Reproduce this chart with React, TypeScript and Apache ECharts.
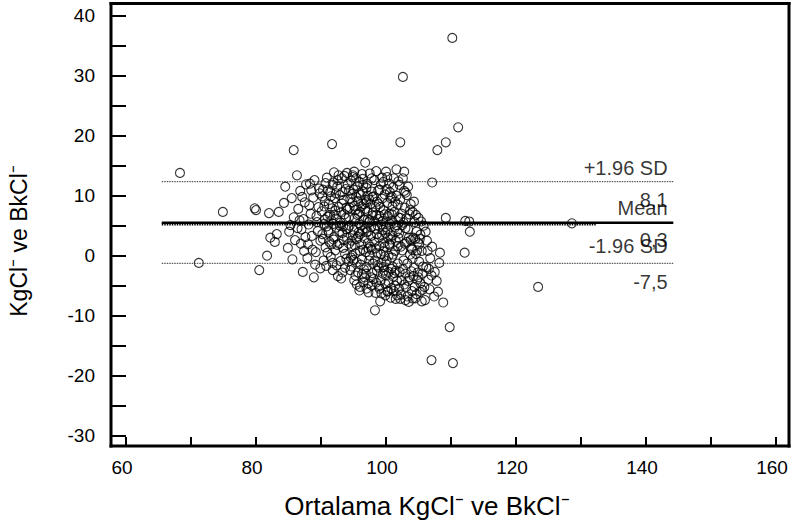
import React, { useEffect, useRef } from "react";
import * as echarts from "echarts";

const FONT = "'Liberation Sans', Arial, Helvetica, sans-serif";

const xAxisMin = 57.69;
const xAxisMax = 162;
const yAxisMin = -31.72;
const yAxisMax = 42.03;
const xTickValues = [60, 70, 80, 90, 100, 110, 120, 130, 140, 150, 160];
const xLabelValues = [60, 80, 100, 120, 140, 160];
const yTickValues = [-30, -25, -20, -15, -10, -5, 0, 5, 10, 15, 20, 25, 30, 35, 40];
const yLabelValues = [-30, -20, -10, 0, 10, 20, 30, 40];

const xTitle = "Ortalama KgCl⁻ ve BkCl⁻";
const yTitle = "KgCl⁻ ve BkCl⁻";

// reference lines: [xStart, xEnd, y]
const meanLine = [65.5, 144.2, 5.5];
const meanDotted = [65.5, 132.3, 5.25];
const upperLine = [65.5, 144.2, 12.33];
const lowerLine = [65.5, 144.2, -1.27];

const lineLabelX = 143.4;
const lineLabelTexts = ["+1.96 SD", "8,1", "Mean", "0,3", "-1.96 SD", "-7,5"];
const lineLabelY = [14.57, 9.28, 7.9, 2.62, 1.62, -4.33];

const outlierPoints = [
  [110.2, 36.3], [102.6, 29.8], [111.1, 21.4], [91.7, 18.6], [109.2, 18.9], [107.9, 17.6],
  [85.8, 17.6], [68.3, 13.8], [107.1, 12.2], [74.9, 7.3], [79.8, 7.9], [80.0, 7.6],
  [109.2, 6.3], [112.2, 5.8], [112.8, 5.7], [112.9, 4.0], [112.1, 0.5], [128.6, 5.4],
  [71.2, -1.2], [123.4, -5.2], [80.5, -2.4], [108.8, -7.8], [98.3, -9.1], [109.8, -11.9],
  [107.0, -17.4], [110.3, -17.9],
];

const band82 = [
  [82.2, 3.0], [82.9, 2.3], [83.2, 3.6], [83.5, 7.3], [82.0, 7.1], [84.3, 8.8], [84.5, 11.5],
  [84.9, 1.3], [81.7, 0.0], [85.3, 5.1], [85.8, 6.4], [85.5, 9.6], [86.3, 13.4], [85.1, 4.0],
  [86.0, 2.6], [85.6, -0.6],
];

const band86 = [
  [86.5, 7.8], [86.8, 10.8], [87.2, -2.7], [87.0, 4.4], [87.3, 6.1], [87.5, 8.9], [87.7, 11.9],
  [88.0, 1.9], [88.1, 5.2], [88.4, 7.0], [88.6, 3.3], [88.9, -3.6], [88.8, 9.7], [89.0, 12.6],
  [89.2, 0.6], [89.3, 6.6], [89.5, 4.1], [89.6, 8.1], [89.8, 10.4], [89.9, 2.5], [86.9, 2.0],
  [87.9, -0.4], [88.3, 12.0], [89.1, -1.5], [86.7, 5.9], [87.6, 3.1], [88.7, 1.0], [89.7, 11.2],
  [87.1, 9.8], [88.2, 8.4], [89.4, 5.6], [86.4, 4.6], [87.4, 0.8], [89.9, -2.1], [88.5, 10.9],
];

const band90 = [
  [90.1, 7.4], [90.2, 3.6], [90.3, 11.0], [90.4, -0.8], [90.5, 5.3], [90.6, 9.1], [90.7, 1.4],
  [90.8, -1.7], [90.9, 13.0], [91.0, 6.5], [91.1, 4.2], [91.2, 8.6], [91.3, 2.3], [91.4, 10.6],
  [91.5, -0.2], [91.6, 5.9], [91.7, 7.9], [91.8, -1.2], [91.8, -2.4], [91.9, 12.2], [92.0, 3.1],
  [92.0, 13.9], [92.1, 9.6], [92.2, 0.9], [92.3, 6.2], [92.4, 4.7], [92.5, 11.5], [92.6, -3.4],
  [92.7, 8.1], [92.8, 2.0], [92.9, 10.1], [93.0, 5.5], [93.0, -0.9], [93.1, 7.2], [93.2, 12.9],
  [93.3, 3.8], [93.4, 1.3], [93.5, 9.3], [93.6, 6.9], [93.7, -2.0], [93.8, 11.1], [93.9, 4.4],
  [90.3, 2.8], [90.7, 12.1], [91.0, 0.5], [91.5, 9.9], [92.0, 6.8], [92.4, -1.6], [92.8, 4.0],
  [93.3, 10.6], [93.7, 0.3], [93.9, 8.0], [90.5, 8.2], [91.2, 3.9], [91.8, 11.8], [92.5, 1.8],
  [93.1, -3.8], [93.6, 13.3], [90.9, 4.9], [91.4, 6.8], [92.2, 7.5], [92.9, 5.0], [93.5, 2.6],
  [90.2, 9.9], [91.9, 5.3], [92.6, 12.6], [93.2, 8.7], [93.8, 6.3], [91.6, 1.9], [92.3, 10.4],
];

const band94 = [
  [94.0, 3.0], [94.1, 7.7], [94.2, -1.0], [94.3, 10.8], [94.4, 5.0], [94.5, -2.4], [94.6, 12.5],
  [94.7, 1.6], [94.8, 8.9], [94.9, 13.4], [94.9, 13.1], [95.0, 4.3], [95.1, 14.0], [95.1, -4.1],
  [95.2, 6.3], [95.3, 0.4], [95.4, 9.8], [95.5, 2.8], [95.6, 11.6], [95.7, -2.8], [95.8, 7.0],
  [95.9, 5.4], [96.0, -5.2], [96.0, 3.6], [96.1, 10.1], [96.2, 8.2], [96.3, -0.6], [96.4, 12.8],
  [96.5, 1.0], [96.6, 6.0], [96.7, -3.6], [96.8, 15.5], [96.8, 4.6], [96.9, 9.3], [97.0, -1.9],
  [97.0, 11.3], [97.1, 7.4], [97.2, 2.1], [97.3, -4.6], [97.4, 5.6], [97.5, 13.7], [97.5, 0.0],
  [97.6, 8.6], [97.7, 3.3], [97.8, 10.7], [97.9, -2.9], [97.9, 6.7], [94.2, 4.6], [94.5, 9.5],
  [94.8, 0.0], [95.0, 11.0], [95.3, -3.3], [95.6, 6.8], [95.9, 12.3], [96.2, 1.9], [96.5, -4.4],
  [96.8, 7.8], [97.1, 12.0], [97.4, -0.8], [97.7, 4.8], [94.3, 6.4], [94.7, 2.5], [95.1, 8.3],
  [95.5, -1.1], [95.8, 3.9], [96.1, 5.1], [96.4, 10.7], [96.7, 2.9], [97.0, 8.9], [97.3, -6.1],
  [97.6, 1.5], [97.9, 9.8], [94.1, 11.9], [94.6, -0.3], [95.2, 1.7], [95.7, 9.1], [96.3, 13.6],
  [96.9, 0.6], [97.2, 10.0], [97.8, -5.0], [94.4, 8.0], [95.4, 12.9], [96.0, 7.3], [96.6, -2.3],
  [97.5, 5.9], [94.9, 3.4], [95.9, -5.8], [96.5, 11.8], [97.2, 4.0], [97.8, 1.0],
];

const band98 = [
  [98.0, 7.2], [98.1, -3.9], [98.2, 12.6], [98.3, 4.5], [98.4, 1.2], [98.5, 14.1],
  [98.6, 9.0], [98.7, -1.6], [98.8, 6.1], [98.9, 3.0], [99.0, 11.0], [99.0, -5.5], [99.1, 8.1],
  [99.2, 0.3], [99.3, 5.2], [99.4, 13.0], [99.5, -3.0], [99.6, 7.6], [99.7, 2.2], [99.8, 10.2],
  [99.9, -6.6], [100.0, 14.0], [100.0, 4.8], [100.1, -0.9], [100.2, 8.8], [100.3, 6.6],
  [100.4, -4.4], [100.5, 12.0], [100.6, 1.8], [100.7, 9.6], [100.8, -2.2], [100.9, 5.8],
  [101.0, 3.4], [101.1, 11.4], [101.2, -5.9], [101.3, 7.3], [101.4, 0.8], [101.5, -7.2],
  [101.6, 10.0], [101.6, 14.4], [101.7, 4.1], [101.8, -1.3], [101.9, 6.4], [98.1, 9.9],
  [98.4, -6.2], [98.7, 5.0], [99.0, 1.6], [99.3, -1.2], [99.6, 12.3], [99.9, 3.8], [100.2, -6.0],
  [100.5, 7.0], [100.8, 2.7], [101.1, -3.5], [101.4, 9.0], [101.7, -4.2], [98.2, 2.3],
  [98.6, -2.5], [98.9, 8.6], [99.2, -4.1], [99.5, 4.3], [99.8, 6.9], [100.1, 11.1], [100.4, 0.0],
  [100.7, -7.0], [101.0, 8.2], [101.3, -2.9], [101.6, 5.1], [101.9, 12.4], [98.5, 6.8],
  [99.1, -7.6], [99.7, -2.5], [100.3, 3.0], [100.9, -0.3], [101.5, 2.5], [98.8, 10.9],
  [99.4, 3.4], [100.0, -3.3], [100.6, 5.3], [101.2, 12.9], [101.8, 1.6], [98.3, -0.8],
  [99.6, 0.7], [100.9, 9.8], [98.9, -5.1], [100.2, 13.1], [101.4, -5.0], [99.2, 11.9],
  [100.8, -5.4],
];

const band102 = [
  [102.0, 3.7], [102.1, -2.7], [102.2, 18.9], [102.2, 9.4], [102.3, -6.5], [102.4, 7.0],
  [102.5, 0.9], [102.6, 12.9], [102.7, 5.5], [102.8, -4.8], [102.9, 2.0], [103.0, 10.5],
  [103.0, -7.4], [103.1, 6.2], [103.2, 10.1], [103.3, -1.3], [103.4, 4.4], [103.4, 11.5],
  [103.6, -3.6], [103.7, 7.6], [103.8, 8.6], [103.9, 1.3], [104.0, -5.9], [104.1, 7.3],
  [104.2, 3.0], [104.3, -2.0], [104.4, 5.6], [104.5, -7.1], [104.6, 0.3], [104.7, 4.0],
  [104.8, -4.0], [104.9, 2.2], [105.0, 6.3], [105.1, -1.0], [105.2, -6.0], [105.3, 3.5],
  [105.5, 0.8], [105.6, -3.0], [105.8, 5.0], [105.9, -5.2], [102.3, 1.5], [102.7, -0.8],
  [103.1, -5.2], [103.5, 3.0], [103.9, -2.6], [104.3, 9.0], [104.7, -6.4], [105.1, 1.9],
  [105.5, -7.6], [102.5, 5.1], [102.9, 8.0], [103.3, -6.8], [103.7, 0.2], [104.1, -0.5],
  [104.5, 2.8], [104.9, -2.8], [105.3, -4.6], [105.7, -1.8], [102.1, 11.8], [102.8, 14.0],
  [102.2, -7.2], [103.5, -7.7], [104.1, -7.1],
];

const band106 = [
  [106.0, -7.4], [106.3, 2.5], [106.5, -4.0], [106.8, -0.4], [107.1, 1.5], [107.4, -6.8],
  [107.5, -2.7], [108.2, -1.2], [108.3, 0.5], [106.2, -1.9], [106.7, -5.6], [107.8, -4.2],
  [106.4, 0.8], [107.0, -3.3], [108.0, -6.0], [106.1, 4.0], [106.6, -2.2],
];

const denseExtra = [
  [90.6, 6.0], [91.1, 10.9], [91.9, 2.7], [92.7, 13.4], [93.4, 4.9], [93.9, -0.5], [94.3, 2.0],
  [94.8, 10.3], [95.3, 7.6], [95.7, 3.2], [96.1, -1.5], [96.6, 8.6], [97.0, 3.9], [97.4, 9.4],
  [97.8, 12.9], [98.2, 5.7], [98.6, 3.6], [99.0, 6.6], [99.4, 9.5], [99.8, 1.5], [100.2, 4.2],
  [100.6, 10.6], [101.0, -1.8], [101.4, 4.7], [101.8, 8.5], [102.2, 6.3], [102.6, -2.2],
  [103.0, 4.6], [103.4, -4.2], [103.8, 2.6], [104.2, -3.4], [104.6, 6.8], [105.0, -3.6],
  [105.4, 5.7], [94.0, 13.8], [95.0, -0.7], [95.8, 10.4], [96.4, 4.2], [97.2, 6.1], [97.7, -3.6],
  [98.4, 8.1], [98.9, -2.0], [99.5, 5.8], [99.9, -4.7], [100.5, 2.0], [100.9, 6.9], [101.5, -2.5],
  [101.9, 3.0], [102.4, -4.1], [102.8, 10.8], [103.2, 2.3], [103.6, 6.9], [104.0, 1.0],
  [104.4, -5.2], [104.8, 0.9], [105.2, 2.8], [105.6, -5.7], [96.0, 0.8], [96.9, -3.0],
  [97.3, 1.2], [98.0, -1.3], [98.7, 0.4], [99.3, -6.3], [99.8, -0.1], [100.4, -2.7], [101.1, 0.2],
  [101.7, -6.6], [102.0, -5.5], [103.0, -3.0], [100.3, -5.9], [99.6, -1.9], [98.5, -4.5],
  [97.0, -5.5], [96.3, -3.1], [95.5, -4.8], [94.7, -1.8], [93.3, -2.8],
];

const allPoints = [
  ...band82, ...band86, ...band90, ...band94, ...band98, ...band102, ...band106,
  ...denseExtra, ...outlierPoints,
];

function hLine(l: number[]) {
  return [[l[0], l[2]], [l[1], l[2]]];
}

const GRID = { left: 111, top: 3.5, right: 3, bottom: 86 };
const W = 792;
const H = 532;
const FW = 3; // frame thickness

const gx0 = GRID.left;
const gy0 = GRID.top;
const gx1 = W - GRID.right;
const gy1 = H - GRID.bottom;

const frameBars = [
  { x: gx0 - FW / 2, y: gy0 - FW / 2, width: gx1 - gx0 + FW, height: FW },
  { x: gx0 - FW / 2, y: gy1 - FW / 2, width: gx1 - gx0 + FW, height: FW },
  { x: gx0 - FW / 2, y: gy0 - FW / 2, width: FW, height: gy1 - gy0 + FW },
  { x: gx1 - FW / 2, y: gy0 - FW / 2, width: FW, height: gy1 - gy0 + FW },
];

export default function App() {
  const ref = useRef<HTMLDivElement>(null);
  useEffect(() => {
    if (!ref.current) return;
    const chart = echarts.init(ref.current, null, { renderer: "svg" });
    chart.setOption({
      animation: false,
      backgroundColor: "#fff",
      grid: { ...GRID, show: false },
      xAxis: {
        type: "value", min: xAxisMin, max: xAxisMax, position: "bottom",
        axisLine: { show: false, onZero: false }, splitLine: { show: false },
        axisTick: { show: true, inside: true, length: 9, customValues: xTickValues, lineStyle: { color: "#000", width: 2 } },
        axisLabel: { customValues: xLabelValues, fontSize: 19, color: "#000", fontFamily: FONT, margin: 12, padding: [0, 8, 0, 0] },
      },
      yAxis: {
        type: "value", min: yAxisMin, max: yAxisMax, position: "left",
        axisLine: { show: false, onZero: false }, splitLine: { show: false },
        axisTick: { show: true, inside: true, length: 15, customValues: yTickValues, lineStyle: { color: "#000", width: 2 } },
        axisLabel: { customValues: yLabelValues, fontSize: 19, color: "#000", fontFamily: FONT, margin: 16 },
      },
      graphic: [
        ...frameBars.map((b) => ({
          type: "rect", z: 100, silent: true,
          shape: b,
          style: { fill: "#000" },
        })),
        {
          type: "text", x: 427, y: 506,
          style: { text: xTitle, font: `26px ${FONT}`, fill: "#000", textAlign: "center", textVerticalAlign: "middle" },
        },
        {
          type: "text", x: 19, y: 241, rotation: Math.PI / 2,
          style: { text: yTitle, font: `23px ${FONT}`, fill: "#000", textAlign: "center", textVerticalAlign: "middle" },
        },
      ],
      series: [
        {
          type: "scatter", data: allPoints, symbol: "circle", symbolSize: 9,
          itemStyle: { color: "rgba(0,0,0,0)", borderColor: "#000", borderWidth: 1.1 },
          emphasis: { disabled: true },
        },
        {
          type: "line", data: hLine(upperLine), symbol: "none",
          lineStyle: { color: "#333", width: 1, type: [1.5, 1] },
        },
        {
          type: "line", data: hLine(lowerLine), symbol: "none",
          lineStyle: { color: "#333", width: 1, type: [1.5, 1] },
        },
        {
          type: "line", data: hLine(meanDotted), symbol: "none",
          lineStyle: { color: "#000", width: 2.5, type: [1.5, 1] },
        },
        {
          type: "line", data: hLine(meanLine), symbol: "none",
          lineStyle: { color: "#000", width: 2.5 },
        },
        {
          type: "scatter", symbolSize: 1,
          data: lineLabelTexts.map((t, i) => ({ value: [lineLabelX, lineLabelY[i]], name: t })),
          itemStyle: { color: "rgba(0,0,0,0)" },
          label: {
            show: true, position: "left", distance: 0, formatter: (p: any) => p.name,
            fontSize: 20, fontFamily: FONT, color: "#000", verticalAlign: "middle",
          },
          emphasis: { disabled: true },
        },
      ],
    });
    return () => chart.dispose();
  }, []);
  return <div ref={ref} style={{ position: "fixed", left: 0, top: 0, width: W, height: H }} />;
}
